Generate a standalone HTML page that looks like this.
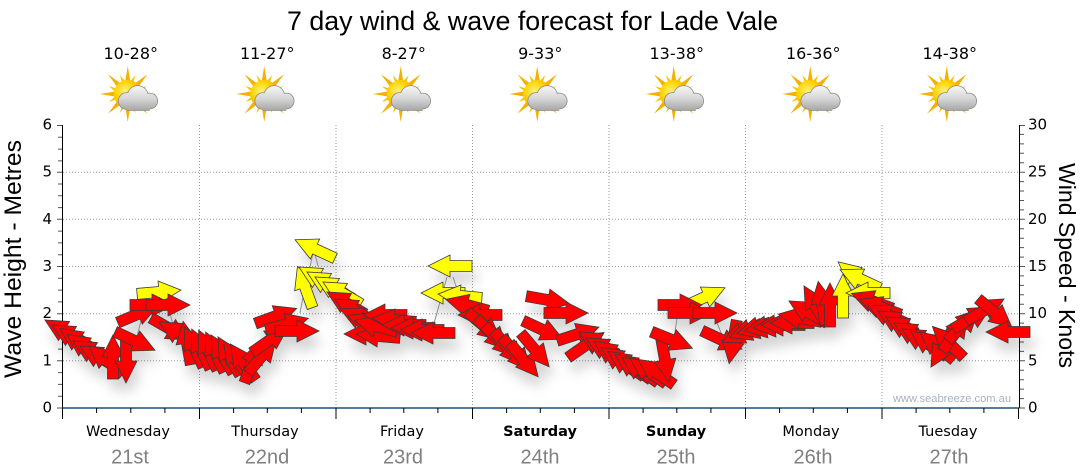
<!DOCTYPE html>
<html><head><meta charset="utf-8"><style>
html,body{margin:0;padding:0;background:#fff;}
svg{display:block;}
</style></head><body>
<svg width="1080" height="475" viewBox="0 0 1080 475" xmlns="http://www.w3.org/2000/svg">
<defs>
<path id="a" d="M-22,-5.5H0V-11L22,0L0,11V5.5H-22Z" stroke="#3a3a3a" stroke-width="0.8" stroke-linejoin="miter"/>
<filter id="sh" x="-5%" y="-20%" width="110%" height="160%">
<feGaussianBlur in="SourceAlpha" stdDeviation="6"/>
<feOffset dx="4" dy="11" result="b"/>
<feFlood flood-color="#000" flood-opacity="0.17"/>
<feComposite in2="b" operator="in"/>
<feMerge><feMergeNode/><feMergeNode in="SourceGraphic"/></feMerge>
</filter>
<radialGradient id="sunG" cx="0.4" cy="0.4" r="0.6">
<stop offset="0" stop-color="#fff27a"/><stop offset="0.6" stop-color="#ffd200"/><stop offset="1" stop-color="#f4a400"/>
</radialGradient>
<linearGradient id="cloudG" x1="0" y1="86" x2="0" y2="111" gradientUnits="userSpaceOnUse">
<stop offset="0" stop-color="#f6f6f6"/><stop offset="0.5" stop-color="#d6d6d6"/><stop offset="1" stop-color="#a4a4a4"/>
</linearGradient>
<g id="wx">
<g transform="translate(-3,94)">
<g fill="#f5b000">
<polygon points="0,-28 3,-10 -3,-10"/>
<polygon points="0,28 3,10 -3,10"/>
<polygon points="-28,0 -10,3 -10,-3"/>
<polygon points="28,0 10,3 10,-3"/>
<polygon points="-19.8,-19.8 -5,-9 -9,-5"/>
<polygon points="19.8,19.8 5,9 9,5"/>
<polygon points="-19.8,19.8 -5,9 -9,5"/>
<polygon points="19.8,-19.8 5,-9 9,-5"/>
</g>
<g fill="#f8c400">
<polygon points="-8,-19 -1,-11 -5,-10"/>
<polygon points="8,-19 1,-11 5,-10"/>
<polygon points="-19,-8 -11,-1 -10,-5"/>
<polygon points="-19,8 -11,1 -10,5"/>
<polygon points="-8,19 -1,11 -5,10"/>
<polygon points="8,19 1,11 5,10"/>
<polygon points="19,-8 11,-1 10,-5"/>
<polygon points="19,8 11,1 10,5"/>
</g>
<circle r="14" fill="url(#sunG)"/>
</g>
<g fill="#8a8a8a">
<circle cx="-4" cy="101" r="8.8"/><circle cx="7" cy="96" r="10.8"/><circle cx="19" cy="101" r="8.3"/>
<rect x="-4" y="100" width="23" height="10.8"/>
</g>
<g fill="url(#cloudG)">
<circle cx="-4" cy="101" r="8"/><circle cx="7" cy="96" r="10"/><circle cx="19" cy="101" r="7.5"/>
<rect x="-4" y="101" width="23" height="9"/>
</g>
</g>
</defs>

<!-- title -->
<text x="287" y="30" font-family="Liberation Sans, sans-serif" font-size="27" textLength="491" lengthAdjust="spacingAndGlyphs" fill="#000">7 day wind &amp; wave forecast for Lade Vale</text>

<!-- temps -->
<g font-family="DejaVu Sans, sans-serif" font-size="16" text-anchor="middle" fill="#000">
<text x="130.75" y="59">10-28°</text>
<text x="267.25" y="59">11-27°</text>
<text x="403.75" y="59">8-27°</text>
<text x="540.25" y="59">9-33°</text>
<text x="676.75" y="59">13-38°</text>
<text x="813.25" y="59">16-36°</text>
<text x="949.75" y="59">14-38°</text>
</g>
<use href="#wx" x="130.75"/>
<use href="#wx" x="267.25"/>
<use href="#wx" x="403.75"/>
<use href="#wx" x="540.25"/>
<use href="#wx" x="676.75"/>
<use href="#wx" x="813.25"/>
<use href="#wx" x="949.75"/>

<!-- grid -->
<g stroke="#9a9a9a" stroke-width="1" stroke-dasharray="1,2">
<line x1="63" y1="172.2" x2="1018" y2="172.2"/>
<line x1="63" y1="219.3" x2="1018" y2="219.3"/>
<line x1="63" y1="266.5" x2="1018" y2="266.5"/>
<line x1="63" y1="313.7" x2="1018" y2="313.7"/>
<line x1="63" y1="360.8" x2="1018" y2="360.8"/>
<line x1="199.5" y1="125" x2="199.5" y2="408"/>
<line x1="336" y1="125" x2="336" y2="408"/>
<line x1="472.5" y1="125" x2="472.5" y2="408"/>
<line x1="609" y1="125" x2="609" y2="408"/>
<line x1="745.5" y1="125" x2="745.5" y2="408"/>
<line x1="882" y1="125" x2="882" y2="408"/>
</g>

<!-- watermark -->
<text x="893" y="402" font-family="Liberation Sans, sans-serif" font-size="11" fill="#a9b0c0" textLength="118" lengthAdjust="spacingAndGlyphs">www.seabreeze.com.au</text>

<!-- axes -->
<g stroke="#000" stroke-width="1">
<line x1="62.5" y1="125" x2="62.5" y2="419"/>
<line x1="1019.5" y1="125" x2="1019.5" y2="408"/>
</g>
<!-- left ticks -->
<g stroke="#555" stroke-width="1">
<path d="M57,125.5H62 M58,137.3H62 M58,149.1H62 M58,160.9H62 M57,172.2H62 M58,184H62 M58,195.8H62 M58,207.6H62 M57,219.3H62 M58,231.1H62 M58,242.9H62 M58,254.7H62 M57,266.5H62 M58,278.3H62 M58,290.1H62 M58,301.9H62 M57,313.7H62 M58,325.5H62 M58,337.3H62 M58,349.1H62 M57,360.8H62 M58,372.6H62 M58,384.4H62 M58,396.2H62 M57,408H62"/>
</g>
<!-- right ticks -->
<g stroke="#555" stroke-width="1">
<path d="M1020,125.5H1025 M1020,134.4H1024 M1020,143.9H1024 M1020,153.3H1024 M1020,162.7H1024 M1020,172.2H1025 M1020,181.6H1024 M1020,191H1024 M1020,200.5H1024 M1020,209.9H1024 M1020,219.3H1025 M1020,228.8H1024 M1020,238.2H1024 M1020,247.6H1024 M1020,257.1H1024 M1020,266.5H1025 M1020,275.9H1024 M1020,285.4H1024 M1020,294.8H1024 M1020,304.2H1024 M1020,313.7H1025 M1020,323.1H1024 M1020,332.5H1024 M1020,342H1024 M1020,351.4H1024 M1020,360.8H1025 M1020,370.3H1024 M1020,379.7H1024 M1020,389.1H1024 M1020,398.6H1024 M1020,408H1025"/>
</g>
<!-- bottom axis -->
<line x1="62.5" y1="408" x2="1019.5" y2="408" stroke="#1d4e7c" stroke-width="1.5"/>
<g stroke="#000" stroke-width="1">
<path d="M62.5,408V419 M199.5,408V419 M336,408V419 M472.5,408V419 M609,408V419 M745.5,408V419 M882,408V419 M1018.5,408V419"/>
<path d="M96.6,408V413 M130.8,408V413 M164.9,408V413 M233.6,408V413 M267.3,408V413 M301.4,408V413 M370.1,408V413 M403.8,408V413 M437.9,408V413 M506.6,408V413 M540.3,408V413 M574.4,408V413 M643.1,408V413 M676.8,408V413 M710.9,408V413 M779.6,408V413 M813.3,408V413 M847.4,408V413 M916.1,408V413 M949.8,408V413 M983.9,408V413"/>
</g>

<!-- axis labels -->
<g font-family="DejaVu Sans, sans-serif" font-size="15" fill="#000">
<g text-anchor="end">
<text x="52" y="129.5">6</text>
<text x="52" y="176.7">5</text>
<text x="52" y="223.8">4</text>
<text x="52" y="271">3</text>
<text x="52" y="318.2">2</text>
<text x="52" y="365.3">1</text>
<text x="52" y="412.5">0</text>
</g>
<text x="1028" y="129.5">30</text>
<text x="1028" y="176.7">25</text>
<text x="1028" y="223.8">20</text>
<text x="1028" y="271">15</text>
<text x="1028" y="318.2">10</text>
<text x="1028" y="365.3">5</text>
<text x="1028" y="412.5">0</text>
</g>
<text transform="translate(21,259) rotate(-90)" text-anchor="middle" font-family="Liberation Sans, sans-serif" font-size="24" textLength="238" lengthAdjust="spacingAndGlyphs" fill="#000">Wave Height - Metres</text>
<text transform="translate(1059,265.5) rotate(90)" text-anchor="middle" font-family="Liberation Sans, sans-serif" font-size="23.5" textLength="205" lengthAdjust="spacingAndGlyphs" fill="#000">Wind Speed - Knots</text>

<!-- day labels -->
<g font-family="DejaVu Sans, sans-serif" font-size="14.5" text-anchor="middle" fill="#000">
<text x="128" y="436">Wednesday</text>
<text x="265" y="436">Thursday</text>
<text x="402" y="436">Friday</text>
<text x="540" y="436" font-weight="bold">Saturday</text>
<text x="676" y="436" font-weight="bold">Sunday</text>
<text x="811" y="436">Monday</text>
<text x="948" y="436">Tuesday</text>
</g>
<g font-family="Liberation Sans, sans-serif" font-size="20" text-anchor="middle" fill="#808080">
<text x="130" y="463.5">21st</text>
<text x="267" y="463.5">22nd</text>
<text x="403" y="463.5">23rd</text>
<text x="540" y="463.5">24th</text>
<text x="676" y="463.5">25th</text>
<text x="813" y="463.5">26th</text>
<text x="949" y="463.5">27th</text>
</g>

<!-- arrows -->
<g filter="url(#sh)">
<g stroke="#8c8c8c" stroke-width="1" fill="none">
<path d="M137,336L141,321 M170,313L173,325 M300,313L305,287 M310,267L313,253 M318,266L315,254 M433,327L447,277 M453,277L458,292 M547,320L540,340 M675,332L677,318 M717,323L722,335 M846,280L853,293"/>
</g>
<g fill="#ff0000">
<use href="#a" transform="translate(64,331) rotate(-150)"/>
<use href="#a" transform="translate(71,336) rotate(-150)"/>
<use href="#a" transform="translate(78,341) rotate(-145)"/>
<use href="#a" transform="translate(85,347) rotate(-145)"/>
<use href="#a" transform="translate(92,352) rotate(-150)"/>
<use href="#a" transform="translate(99,357) rotate(-150)"/>
<use href="#a" transform="translate(106,360) rotate(-140)"/>
<use href="#a" transform="translate(113,357) rotate(-90)"/>
<use href="#a" transform="translate(126,361) rotate(90)"/>
<use href="#a" transform="translate(135,341) rotate(25)"/>
<use href="#a" transform="translate(159,292) rotate(-5)" fill="#ffff00"/>
<use href="#a" transform="translate(138,314) rotate(-23)"/>
<use href="#a" transform="translate(152,305) rotate(0)"/>
<use href="#a" transform="translate(168,305) rotate(0)"/>
<use href="#a" transform="translate(170,329) rotate(30)"/>

<use href="#a" transform="translate(178,333) rotate(-150)"/>
<use href="#a" transform="translate(187,343) rotate(-100)"/>
<use href="#a" transform="translate(194,347) rotate(-115)"/>
<use href="#a" transform="translate(201,349) rotate(-115)"/>
<use href="#a" transform="translate(208,350) rotate(-115)"/>
<use href="#a" transform="translate(215,352) rotate(-115)"/>
<use href="#a" transform="translate(222,354) rotate(-120)"/>
<use href="#a" transform="translate(229,356) rotate(-120)"/>
<use href="#a" transform="translate(236,359) rotate(-125)"/>
<use href="#a" transform="translate(243,362) rotate(-125)"/>
<use href="#a" transform="translate(252,362) rotate(-70)"/>
<use href="#a" transform="translate(262,356) rotate(-50)"/>
<use href="#a" transform="translate(270,340) rotate(-35)"/>
<use href="#a" transform="translate(276,316) rotate(-20)"/>
<use href="#a" transform="translate(287,324) rotate(-15)"/>
<use href="#a" transform="translate(297,331) rotate(0)"/>

<g fill="#ffff00">
<use href="#a" transform="translate(315,249) rotate(-155)"/>
<use href="#a" transform="translate(305,287) rotate(-110)"/>
<use href="#a" transform="translate(318,278) rotate(-150)"/>
<use href="#a" transform="translate(326,283) rotate(-150)"/>
<use href="#a" transform="translate(334,288) rotate(-150)"/>
<use href="#a" transform="translate(342,293) rotate(-150)"/>
</g>
<use href="#a" transform="translate(346,303) rotate(-150)"/>
<use href="#a" transform="translate(354,310) rotate(-150)"/>
<use href="#a" transform="translate(360,318) rotate(-155)"/>
<use href="#a" transform="translate(368,323) rotate(-160)"/>
<use href="#a" transform="translate(366,334) rotate(180)"/>
<use href="#a" transform="translate(378,336) rotate(-175)"/>
<use href="#a" transform="translate(376,326) rotate(-165)"/>
<use href="#a" transform="translate(385,315) rotate(180)"/>
<use href="#a" transform="translate(394,320) rotate(-175)"/>
<use href="#a" transform="translate(404,325) rotate(180)"/>
<use href="#a" transform="translate(413,328) rotate(180)"/>
<use href="#a" transform="translate(422,330) rotate(180)"/>
<use href="#a" transform="translate(433,333) rotate(180)"/>
<g fill="#ffff00">
<use href="#a" transform="translate(450,266) rotate(180)"/>
<use href="#a" transform="translate(443,293) rotate(180)"/>
<use href="#a" transform="translate(460,296) rotate(-175)"/>
</g>
<use href="#a" transform="translate(467,305) rotate(-165)"/>
<use href="#a" transform="translate(480,315) rotate(180)"/>

<use href="#a" transform="translate(484,326) rotate(40)"/>
<use href="#a" transform="translate(492,334) rotate(45)"/>
<use href="#a" transform="translate(500,341) rotate(45)"/>
<use href="#a" transform="translate(508,348) rotate(50)"/>
<use href="#a" transform="translate(516,354) rotate(50)"/>
<use href="#a" transform="translate(524,360) rotate(50)"/>
<use href="#a" transform="translate(535,350) rotate(50)"/>
<use href="#a" transform="translate(543,330) rotate(25)"/>
<use href="#a" transform="translate(548,300) rotate(10)"/>
<use href="#a" transform="translate(566,313) rotate(0)"/>
<use href="#a" transform="translate(578,334) rotate(-18)"/>
<use href="#a" transform="translate(586,345) rotate(-35)"/>
<use href="#a" transform="translate(598,343) rotate(-150)"/>
<use href="#a" transform="translate(605,349) rotate(-150)"/>
<use href="#a" transform="translate(612,354) rotate(-145)"/>
<use href="#a" transform="translate(619,360) rotate(-145)"/>
<use href="#a" transform="translate(626,364) rotate(-145)"/>
<use href="#a" transform="translate(633,367) rotate(-145)"/>
<use href="#a" transform="translate(640,370) rotate(-145)"/>
<use href="#a" transform="translate(648,371) rotate(-145)"/>
<use href="#a" transform="translate(656,372) rotate(-145)"/>
<use href="#a" transform="translate(665,360) rotate(80)"/>
<use href="#a" transform="translate(672,340) rotate(22)"/>
<use href="#a" transform="translate(705,297) rotate(-25)" fill="#ffff00"/>
<use href="#a" transform="translate(680,305) rotate(0)"/>
<use href="#a" transform="translate(690,313) rotate(0)"/>
<use href="#a" transform="translate(715,313) rotate(0)"/>
<use href="#a" transform="translate(722,340) rotate(25)"/>

<use href="#a" transform="translate(733,342) rotate(100)"/>
<use href="#a" transform="translate(742,333) rotate(155)"/>
<use href="#a" transform="translate(750,330) rotate(160)"/>
<use href="#a" transform="translate(758,328) rotate(165)"/>
<use href="#a" transform="translate(766,327) rotate(170)"/>
<use href="#a" transform="translate(775,326) rotate(175)"/>
<use href="#a" transform="translate(783,325) rotate(180)"/>
<use href="#a" transform="translate(792,323) rotate(180)"/>
<use href="#a" transform="translate(800,318) rotate(-170)"/>
<use href="#a" transform="translate(808,312) rotate(-150)"/>
<use href="#a" transform="translate(815,305) rotate(-120)"/>
<use href="#a" transform="translate(822,303) rotate(-100)"/>
<use href="#a" transform="translate(830,305) rotate(-90)"/>
<g fill="#ffff00">
<use href="#a" transform="translate(843,296) rotate(-90)"/>
<use href="#a" transform="translate(855,276) rotate(-140)"/>
<use href="#a" transform="translate(860,279) rotate(-155)"/>
<use href="#a" transform="translate(868,293) rotate(180)"/>
</g>
<use href="#a" transform="translate(872,301) rotate(-160)"/>
<use href="#a" transform="translate(880,307) rotate(-160)"/>
<use href="#a" transform="translate(888,315) rotate(-155)"/>
<use href="#a" transform="translate(897,322) rotate(-150)"/>
<use href="#a" transform="translate(905,328) rotate(-150)"/>
<use href="#a" transform="translate(913,334) rotate(-150)"/>
<use href="#a" transform="translate(921,340) rotate(-150)"/>
<use href="#a" transform="translate(929,344) rotate(-145)"/>
<use href="#a" transform="translate(937,346) rotate(-140)"/>
<use href="#a" transform="translate(942,348) rotate(120)"/>
<use href="#a" transform="translate(948,342) rotate(-135)"/>
<use href="#a" transform="translate(955,333) rotate(-55)"/>
<use href="#a" transform="translate(963,325) rotate(-45)"/>
<use href="#a" transform="translate(972,318) rotate(-30)"/>
<use href="#a" transform="translate(985,310) rotate(-30)"/>
<use href="#a" transform="translate(995,313) rotate(40)"/>
<use href="#a" transform="translate(1008,332) rotate(180)"/>
</g>
</g>
</svg>
</body></html>
